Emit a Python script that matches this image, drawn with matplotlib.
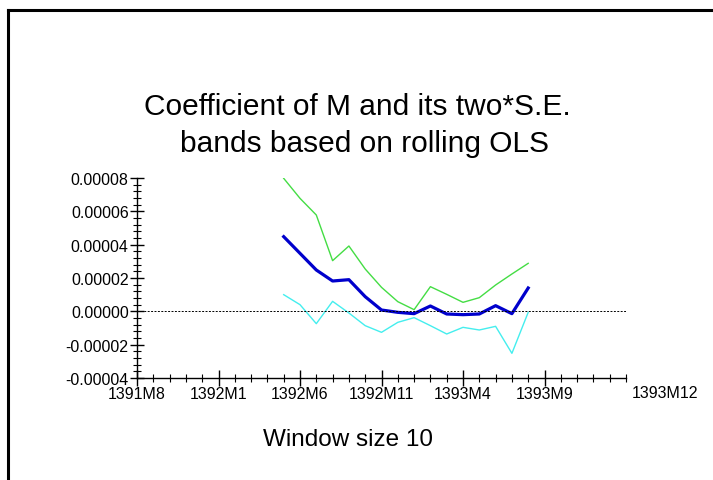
"""Rolling OLS coefficient of M with two*S.E. bands (window size 10)."""
import matplotlib
matplotlib.use("Agg")
import matplotlib.pyplot as plt
from matplotlib.lines import Line2D
from matplotlib.ticker import MultipleLocator, FixedLocator, FuncFormatter

plt.rcParams["font.family"] = ["Liberation Sans", "DejaVu Sans"]

# month index: 0 = 1391M8
tick_pos = [0, 5, 10, 15, 20, 25]
tick_labels = ["1391M8", "1392M1", "1392M6", "1392M11", "1393M4", "1393M9"]
months = list(range(9, 25))  # 1392M5 .. 1393M8

coef = [4.48e-5, 3.48e-5, 2.48e-5, 1.82e-5, 1.90e-5, 0.88e-5, 0.08e-5, -0.06e-5,
        -0.14e-5, 0.32e-5, -0.16e-5, -0.20e-5, -0.16e-5, 0.34e-5, -0.14e-5, 1.40e-5]
upper = [7.98e-5, 6.78e-5, 5.78e-5, 3.04e-5, 3.92e-5, 2.54e-5, 1.44e-5, 0.58e-5,
         0.10e-5, 1.48e-5, 1.02e-5, 0.54e-5, 0.82e-5, 1.58e-5, 2.24e-5, 2.88e-5]
lower = [1.00e-5, 0.40e-5, -0.74e-5, 0.60e-5, -0.10e-5, -0.86e-5, -1.26e-5, -0.66e-5,
         -0.38e-5, -0.86e-5, -1.36e-5, -0.96e-5, -1.12e-5, -0.90e-5, -2.52e-5, -0.06e-5]

W, H = 713, 481
fig = plt.figure(figsize=(W / 100, H / 100), dpi=100)
ax = fig.add_axes([137 / W, 1 - 379 / H, (626 - 137) / W, (379 - 179) / H])

ax.plot(months, upper, color="#44dd44", linewidth=1.0)
ax.plot(months, lower, color="#44eeee", linewidth=1.0)
ax.plot(months, coef, color="#0000cc", linewidth=2.3)
ax.axhline(0, color="black", linewidth=0.7, linestyle=(0, (2, 1.5)))

ax.set_xlim(0, 30)
ax.set_ylim(-0.00004, 0.00008)
for s in ("top", "right"):
    ax.spines[s].set_visible(False)
for s in ("left", "bottom"):
    ax.spines[s].set_linewidth(1.0)

ax.xaxis.set_major_locator(FixedLocator(tick_pos))
ax.set_xticklabels(tick_labels)
ax.xaxis.set_minor_locator(MultipleLocator(1))
ax.yaxis.set_major_locator(MultipleLocator(0.00002))
ax.yaxis.set_minor_locator(MultipleLocator(0.000004))
ax.yaxis.set_major_formatter(FuncFormatter(lambda v, p: f"{v:.5f}"))

ax.tick_params(axis="x", which="major", direction="inout", length=12, width=1, pad=0, labelsize=11.5)
ax.tick_params(axis="x", which="minor", direction="inout", length=6, width=0.8)
ax.tick_params(axis="y", which="major", direction="inout", length=10, width=1, pad=1, labelsize=11.5)
ax.tick_params(axis="y", which="minor", direction="inout", length=6, width=0.8)

# extra end label printed right of the axis
ax.text(32.4, -0.035, "1393M12", fontsize=11.5, ha="center", va="top",
        transform=ax.get_xaxis_transform(), clip_on=False)

fig.text(357 / W, 1 - 115 / H, "Coefficient of M and its two*S.E.", fontsize=21.5,
         ha="center", va="baseline")
fig.text(364 / W, 1 - 152 / H, "bands based on rolling OLS", fontsize=21.5,
         ha="center", va="baseline")
fig.text(348 / W, 1 - 446 / H, "Window size 10", fontsize=17.5, ha="center", va="baseline")

# outer frame (left and top edges visible)
fig.add_artist(Line2D([8 / W, 8 / W], [0, 1 - 10.5 / H], color="black", linewidth=2.2))
fig.add_artist(Line2D([8 / W, 1], [1 - 10.5 / H, 1 - 10.5 / H], color="black", linewidth=2.2))

fig.savefig("out.png", dpi=100)
